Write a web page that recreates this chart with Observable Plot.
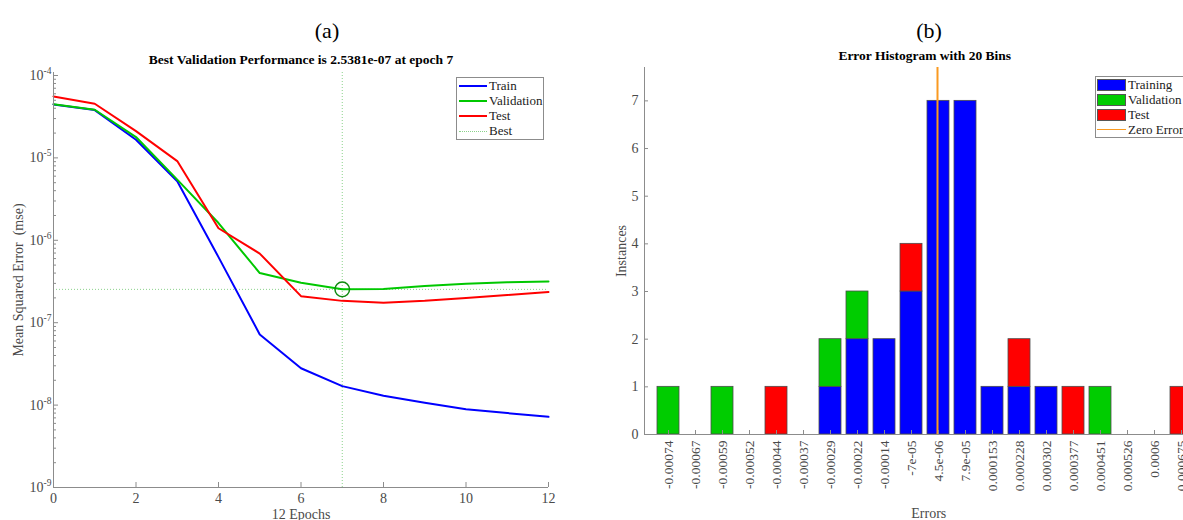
<!DOCTYPE html>
<html>
<head>
<meta charset="utf-8">
<script src="https://cdn.jsdelivr.net/npm/d3@7"></script>
<script src="https://cdn.jsdelivr.net/npm/@observablehq/plot@0.6"></script>
<style>
  html, body { margin: 0; padding: 0; background: #fff; overflow: hidden; }
  #root { position: relative; width: 1183px; height: 520px; overflow: hidden;
          font-family: "Liberation Serif", "Times New Roman", serif; color: #222; }
  .panel-tag { position: absolute; font-size: 22px; transform: translate(-50%, -50%); color: #000; white-space: nowrap; }
  .legend { position: absolute; border: 1px solid #8c8c8c; background: #fff; box-sizing: border-box; }
  .lg-text { position: absolute; font-size: 13px; line-height: 14px; transform: translateY(-50%); color: #222; white-space: nowrap; }
  .lg-line { position: absolute; height: 0; }
  .lg-swatch { position: absolute; box-sizing: border-box; border: 1px solid #555; }
</style>
</head>
<body>
<div id="root"></div>
<script>
// ---------------- Panel (a): performance data ----------------
const epochs = [0, 1, 2, 3, 4, 5, 6, 7, 8, 9, 10, 11, 12];
const trainPerf = [4.45e-5, 3.8e-5, 1.66e-5, 5.2e-6, 6.25e-7, 7.2e-8, 2.8e-8, 1.7e-8, 1.3e-8, 1.07e-8, 8.9e-9, 8.0e-9, 7.2e-9];
const validationPerf = [4.49e-5, 3.84e-5, 1.79e-5, 5.44e-6, 1.62e-6, 4.0e-7, 3.05e-7, 2.5381e-7, 2.56e-7, 2.78e-7, 2.97e-7, 3.1e-7, 3.17e-7];
const testPerf = [5.56e-5, 4.54e-5, 2.11e-5, 9.15e-6, 1.4e-6, 6.9e-7, 2.1e-7, 1.84e-7, 1.75e-7, 1.84e-7, 1.99e-7, 2.17e-7, 2.36e-7];
const bestEpoch = 7;
const bestPerf = 2.5381e-7;
const perfSeries = ["Train", "Validation", "Test"];
const perfColors = ["#0000ff", "#00c800", "#ff0000"];
const bestColor = "#8ad28a";
const decadeTicks = [1e-9, 1e-8, 1e-7, 1e-6, 1e-5, 1e-4];
const epochTicks = [0, 2, 4, 6, 8, 10, 12];
const titleA = "Best Validation Performance is 2.5381e-07 at epoch 7";
const yLabelA = "Mean Squared Error  (mse)";
const xLabelA = "12 Epochs";

// ---------------- Panel (b): error histogram data ----------------
const binLabels = ["-0.00074", "-0.00067", "-0.00059", "-0.00052", "-0.00044", "-0.00037", "-0.00029", "-0.00022", "-0.00014", "-7e-05",
                   "4.5e-06", "7.9e-05", "0.000153", "0.000228", "0.000302", "0.000377", "0.000451", "0.000526", "0.0006", "0.000675"];
const trainingCounts   = [0, 0, 0, 0, 0, 0, 1, 2, 2, 3, 7, 7, 1, 1, 1, 0, 0, 0, 0, 0];
const validationCounts = [1, 0, 1, 0, 0, 0, 1, 1, 0, 0, 0, 0, 0, 0, 0, 0, 1, 0, 0, 0];
const testCounts       = [0, 0, 0, 0, 1, 0, 0, 0, 0, 1, 0, 0, 0, 1, 0, 1, 0, 0, 0, 1];
const histSeries = ["Training", "Validation", "Test"];
const histColors = ["#0000ff", "#00cc00", "#ff0000"];
const zeroErrorBin = "4.5e-06";
const zeroColor = "#fa9a20";
const countTicks = [0, 1, 2, 3, 4, 5, 6, 7];
const titleB = "Error Histogram with 20 Bins";
const yLabelB = "Instances";
const xLabelB = "Errors";

const axisGray = "#8c8c8c";
const tickText = "#4a4a4a";
const root = document.getElementById("root");

// ---------- build panel (a) ----------
const perfRows = [];
[trainPerf, validationPerf, testPerf].forEach((arr, s) =>
  epochs.forEach((e, i) => perfRows.push({epoch: e, mse: arr[i], series: perfSeries[s]})));

const minorTicks = [];
for (let p = -9; p < -4; p++) for (let m = 2; m <= 9; m++) minorTicks.push(m * Math.pow(10, p));

const plotA = Plot.plot({
  width: 600, height: 520,
  marginLeft: 53, marginRight: 52, marginTop: 72, marginBottom: 33,
  style: {fontFamily: "Liberation Serif, serif", fontSize: "14px", background: "transparent", color: "#333"},
  x: {domain: [0, 12]},
  y: {type: "log", domain: [1e-9, 1.087e-4]},
  color: {domain: perfSeries, range: perfColors},
  marks: [
    Plot.ruleY([bestPerf], {stroke: bestColor, strokeDasharray: "1,2", strokeWidth: 1}),
    Plot.ruleX([bestEpoch], {stroke: bestColor, strokeDasharray: "1,2", strokeWidth: 1}),
    Plot.line(perfRows, {x: "epoch", y: "mse", z: "series", stroke: "series", strokeWidth: 2}),
    Plot.dot([{epoch: bestEpoch, mse: bestPerf}], {x: "epoch", y: "mse", r: 7.3, stroke: "#108a10", strokeWidth: 1.5}),
    Plot.ruleX([0], {stroke: axisGray}),
    Plot.ruleY([1e-9], {stroke: axisGray}),
    Plot.axisY({ticks: minorTicks, tickSize: -3, tickFormat: () => "", stroke: axisGray, label: null}),
    Plot.axisY({ticks: decadeTicks, tickSize: -5, tickPadding: 7, stroke: axisGray, fill: tickText, fontSize: 14,
                tickFormat: d => "10^" + Math.round(Math.log10(d)), label: null}),
    Plot.axisX({ticks: epochTicks, tickSize: -5, tickPadding: 11, stroke: axisGray, fill: tickText, fontSize: 14, label: null}),
    Plot.text([titleA], {text: d => d, frameAnchor: "top", dy: -18, fontWeight: "bold", fontSize: 13.5, fill: "#000"}),
    Plot.text([yLabelA], {text: d => d, frameAnchor: "left", textAnchor: "middle", dx: -35, rotate: -90, fontSize: 14, fill: tickText}),
    Plot.text([xLabelA], {text: d => d, frameAnchor: "bottom", dy: 31, fontSize: 14, fill: tickText})
  ]
});
plotA.style.position = "absolute";
plotA.style.left = "0px";
plotA.style.top = "0px";
root.appendChild(plotA);

// superscript exponents for log tick labels
plotA.querySelectorAll("text").forEach(t => {
  const s = t.textContent;
  if (/^10\^-?\d+$/.test(s)) {
    const exp = s.slice(3);
    while (t.firstChild) t.removeChild(t.firstChild);
    const base = document.createElementNS("http://www.w3.org/2000/svg", "tspan");
    base.textContent = "10";
    const sup = document.createElementNS("http://www.w3.org/2000/svg", "tspan");
    sup.textContent = exp;
    sup.setAttribute("dy", "-6");
    sup.setAttribute("font-size", "9.5");
    t.appendChild(base);
    t.appendChild(sup);
  }
});

// ---------- build panel (b) ----------
const histRows = [];
[trainingCounts, validationCounts, testCounts].forEach((arr, s) =>
  arr.forEach((c, i) => { if (c > 0) histRows.push({bin: binLabels[i], count: c, series: histSeries[s]}); }));

const plotB = Plot.plot({
  width: 625, height: 520,
  marginLeft: 44, marginRight: 20.5, marginTop: 67, marginBottom: 86,
  style: {fontFamily: "Liberation Serif, serif", fontSize: "14px", background: "transparent", color: "#333"},
  x: {type: "band", domain: binLabels, paddingInner: 0.189, paddingOuter: 0.104},
  y: {domain: [0, 7.7]},
  color: {domain: histSeries, range: histColors},
  marks: [
    Plot.barY(histRows, {x: "bin", y: "count", fill: "series", stroke: "#4d4d4d", strokeWidth: 0.8}),
    Plot.ruleX([zeroErrorBin], {stroke: zeroColor, strokeWidth: 2, dx: -1}),
    Plot.ruleY([0], {stroke: axisGray}),
    Plot.frame({anchor: "left", stroke: axisGray}),
    Plot.axisY({ticks: countTicks, tickSize: -4, tickPadding: 10, stroke: axisGray, fill: tickText, fontSize: 14, label: null}),
    Plot.axisX({tickSize: -4, tickPadding: 10, tickRotate: -90, stroke: axisGray, fill: tickText, fontSize: 13.5, label: null}),
    Plot.text([titleB], {text: d => d, frameAnchor: "top", dy: -17, fontWeight: "bold", fontSize: 13.5, fill: "#000"}),
    Plot.text([yLabelB], {text: d => d, frameAnchor: "left", textAnchor: "middle", dx: -23, rotate: -90, fontSize: 14, fill: tickText}),
    Plot.text([xLabelB], {text: d => d, frameAnchor: "bottom", dx: 4, dy: 83, fontSize: 14, fill: tickText})
  ]
});
plotB.style.position = "absolute";
plotB.style.left = "600px";
plotB.style.top = "0px";
root.appendChild(plotB);

// ---------- panel tags ----------
function addDiv(cls, text, css) {
  const d = document.createElement("div");
  d.className = cls;
  if (text != null) d.textContent = text;
  Object.assign(d.style, css);
  root.appendChild(d);
  return d;
}
addDiv("panel-tag", "(a)", {left: "327px", top: "31px"});
addDiv("panel-tag", "(b)", {left: "929px", top: "31px"});

// ---------- legend (a) ----------
addDiv("legend", null, {left: "456px", top: "77px", width: "88px", height: "63px"});
const legA = [
  {label: perfSeries[0], color: perfColors[0], dash: null, w: 2},
  {label: perfSeries[1], color: perfColors[1], dash: null, w: 2},
  {label: perfSeries[2], color: perfColors[2], dash: null, w: 2},
  {label: "Best", color: bestColor, dash: "dotted", w: 1}
];
legA.forEach((e, i) => {
  const cy = 86 + i * 15;
  addDiv("lg-line", null, {left: "459px", top: (cy - e.w / 2) + "px", width: "28px",
    borderTop: e.w + "px " + (e.dash || "solid") + " " + e.color});
  addDiv("lg-text", e.label, {left: "489px", top: cy + "px"});
});

// ---------- legend (b) ----------
addDiv("legend", null, {left: "1095px", top: "76px", width: "110px", height: "62px"});
histSeries.forEach((s, i) => {
  const cy = 84.5 + i * 15;
  addDiv("lg-swatch", null, {left: "1097px", top: (cy - 6) + "px", width: "29px", height: "12px", background: histColors[i]});
  addDiv("lg-text", s, {left: "1128px", top: cy + "px"});
});
addDiv("lg-line", null, {left: "1097px", top: "128.5px", width: "29px", borderTop: "1.5px solid " + zeroColor});
addDiv("lg-text", "Zero Error", {left: "1128px", top: "129.5px"});
</script>
</body>
</html>
